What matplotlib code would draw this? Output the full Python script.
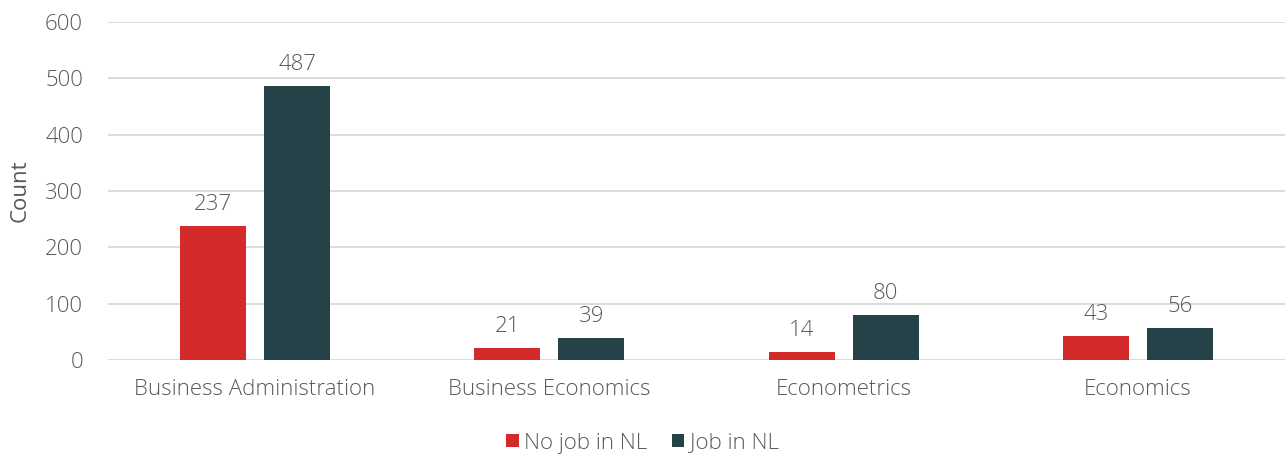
import numpy as np
from matplotlib import pyplot as plt

categories = ['Business Administration', 'Business Economics', 'Econometrics', 'Economics']
no_job = [237, 21, 14, 43]
job = [487, 39, 80, 56]
series_names = ['No job in NL', 'Job in NL']

RED = '#D32B2B'
DARK = '#264249'
TEXT = '#595959'
FS = 16

plt.rcParams['font.family'] = ['Open Sans', 'DejaVu Sans']
plt.rcParams['font.weight'] = 'light'

fig = plt.figure(figsize=(12.85, 4.59), dpi=100)
ax = fig.add_axes([108 / 1285, 1 - 360 / 459, 1 - 108 / 1285, (360 - 22) / 459])

x = np.arange(len(categories))
w = 0.224
off = 0.143
b1 = ax.bar(x - off, no_job, w, color=RED, label=series_names[0], zorder=2)
b2 = ax.bar(x + off, job, w, color=DARK, label=series_names[1], zorder=2)

for bars in (b1, b2):
    for rect in bars:
        h = rect.get_height()
        ax.annotate(str(int(h)), (rect.get_x() + rect.get_width() / 2, h),
                    xytext=(0, 8), textcoords='offset points',
                    ha='center', va='bottom', fontsize=FS, color=TEXT)

ax.set_xlim(-0.5, len(categories) - 0.5)
ax.set_ylim(0, 600)
ax.set_yticks(range(0, 601, 100))
ax.set_xticks(x)
ax.set_xticklabels(categories)
ax.tick_params(axis='both', length=0, labelsize=FS, colors=TEXT)
ax.tick_params(axis='x', pad=14)
ax.tick_params(axis='y', pad=18)
ax.grid(axis='y', color='#D9D9D9', linewidth=1.3, zorder=0)
for s in ax.spines.values():
    s.set_visible(False)
ax.set_ylabel('Count', fontsize=FS, color=TEXT, labelpad=10)

leg = fig.legend(handles=[b1, b2], loc='center', bbox_to_anchor=(0.5, 1 - 443 / 459),
                 ncol=2, frameon=False, fontsize=FS, handlelength=0.55, handleheight=0.55,
                 handletextpad=0.25, columnspacing=1.1)
for t in leg.get_texts():
    t.set_color(TEXT)

fig.savefig('out.png', dpi=100)
